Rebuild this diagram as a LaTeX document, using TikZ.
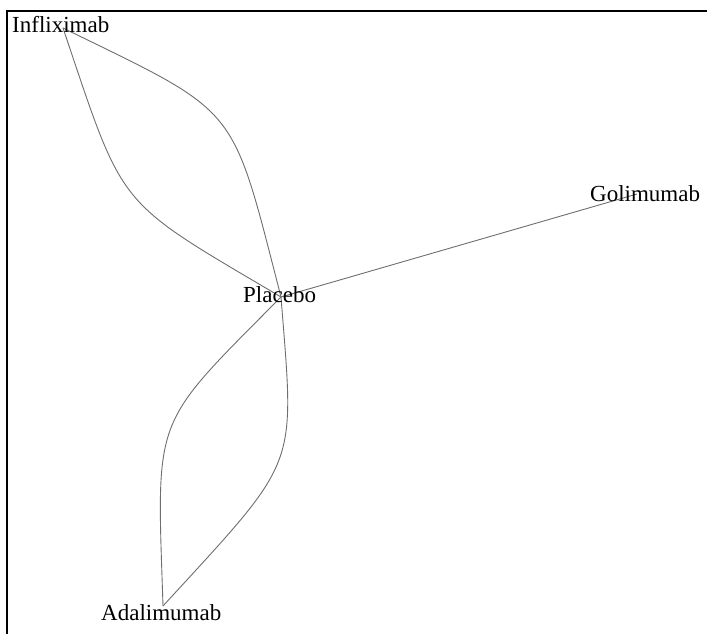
\documentclass[tikz,border=0pt]{standalone}
\usepackage{fontspec}
\setmainfont{Liberation Serif}
\begin{document}
\begin{tikzpicture}[x=1pt,y=-1pt,
  frame/.style={line width=2pt,black},
  edge/.style={line width=0.9pt,draw={rgb,255:red,110;green,110;blue,110}},
  drug/.style={anchor=base west,inner sep=0pt,font=\fontsize{23}{23}\selectfont}]
  \useasboundingbox (0,0) rectangle (707,634);
  % frame: top and left sides only
  \draw[frame] (707,11) -- (7,11) -- (7,634);
  % network nodes
  \coordinate (inf) at (63,28);
  \coordinate (pla) at (281,297);
  \coordinate (gol) at (637,194);
  \coordinate (ada) at (163,606);
  % comparisons
  \draw[edge] (inf) .. controls (241.5,115.2) and (230.6,101.7) .. (pla);
  \draw[edge] (inf) .. controls (125,211.8) and (114,198.3) .. (pla);
  \draw[edge] (pla) -- (gol);
  \draw[edge] (pla) .. controls (150.8,428.3) and (156.7,412.8) .. (ada);
  \draw[edge] (pla) .. controls (294.7,471.3) and (300.6,455.9) .. (ada);
  % labels
  \node[drug] (linf) at (12,33) {Infliximab};
  \node[drug] (lpla) at (243,302) {Placebo};
  \node[drug] (lgol) at (590,201) {Golimumab};
  \node[drug] (lada) at (101,620) {Adalimumab};
\end{tikzpicture}
\end{document}
